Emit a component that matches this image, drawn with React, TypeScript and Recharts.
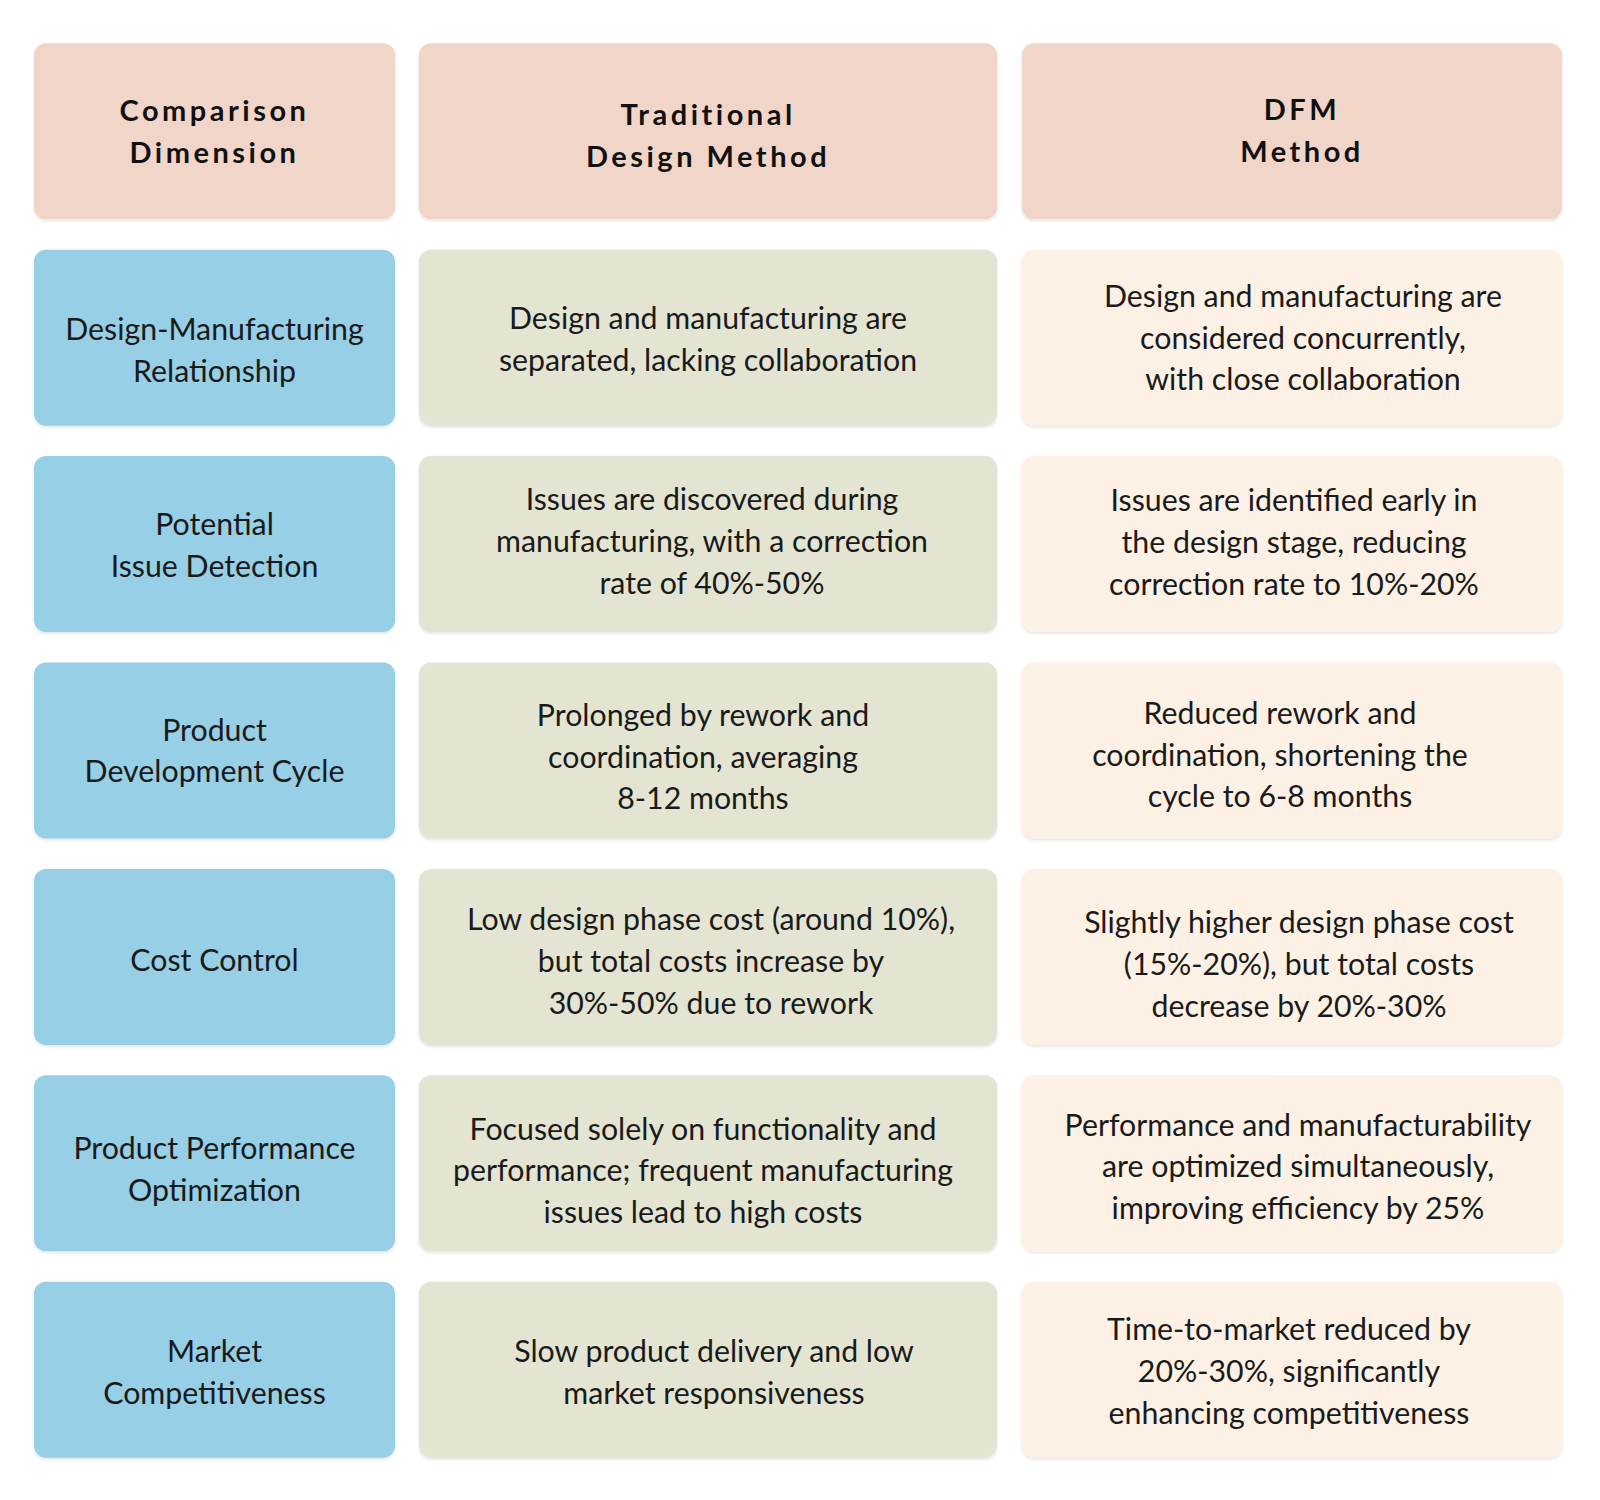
import { ScatterChart, Scatter, XAxis, YAxis } from 'recharts';

// column headers (text lines)
const headers = [
  ['Comparison', 'Dimension'],
  ['Traditional', 'Design Method'],
  ['DFM', 'Method'],
];

// first column: comparison dimensions
const dimensions = [
  ['Design-Manufacturing', 'Relationship'],
  ['Potential', 'Issue Detection'],
  ['Product', 'Development Cycle'],
  ['Cost Control'],
  ['Product Performance', 'Optimization'],
  ['Market', 'Competitiveness'],
];

// second column: traditional design method
const traditional = [
  ['Design and manufacturing are', 'separated, lacking collaboration'],
  ['Issues are discovered during', 'manufacturing, with a correction', 'rate of 40%-50%'],
  ['Prolonged by rework and', 'coordination, averaging', '8-12 months'],
  ['Low design phase cost (around 10%),', 'but total costs increase by', '30%-50% due to rework'],
  ['Focused solely on functionality and', 'performance; frequent manufacturing', 'issues lead to high costs'],
  ['Slow product delivery and low', 'market responsiveness'],
];

// third column: DFM method
const dfm = [
  ['Design and manufacturing are', 'considered concurrently,', 'with close collaboration'],
  ['Issues are identified early in', 'the design stage, reducing', 'correction rate to 10%-20%'],
  ['Reduced rework and', 'coordination, shortening the', 'cycle to 6-8 months'],
  ['Slightly higher design phase cost', '(15%-20%), but total costs', 'decrease by 20%-30%'],
  ['Performance and manufacturability', 'are optimized simultaneously,', 'improving efficiency by 25%'],
  ['Time-to-market reduced by', '20%-30%, significantly', 'enhancing competitiveness'],
];

// layout
const COL_LEFT = [34, 419, 1022];
const COL_WIDTH = [361, 578, 540];
const CELL_H = 176;
const LINE_H = 41.8;
const HEADER_FILL = '#F2D5C9';
const COL_FILL = ['#97CFE6', '#E3E5D2', '#FCF1E4'];
// small per-cell text nudges (header first), to follow the original placement
const TEXT_DX = [
  [0, 0, 0, 0, 0, 0, 0],
  [0, 0, 4, -5, 3, -5, 6],
  [10, 11, 2, -12, 7, 6, -3],
];
const TEXT_DY = [
  [1, 13, 2, 1, 4, 7, 3],
  [5, 2, -2, 7, 5, 8, 3],
  [0, 1, -1, 5, 8, 4, 2],
];

const columns = [dimensions, traditional, dfm];

const buildSeries = (c: number) => [
  { row: 0, x: COL_LEFT[c] + COL_WIDTH[c] / 2, col: c, header: true, lines: headers[c] },
  ...columns[c].map((lines, i) => ({
    row: i + 1,
    x: COL_LEFT[c] + COL_WIDTH[c] / 2,
    col: c,
    header: false,
    lines,
  })),
];

const CellShape = (props: any) => {
  const { cx, cy, payload } = props;
  const w = COL_WIDTH[payload.col];
  const fill = payload.header ? HEADER_FILL : COL_FILL[payload.col];
  const n = payload.lines.length;
  const tx = cx + TEXT_DX[payload.col][payload.row];
  const ty = cy + TEXT_DY[payload.col][payload.row];
  return (
    <g>
      <rect
        x={cx - w / 2}
        y={cy - CELL_H / 2}
        width={w}
        height={CELL_H}
        rx={12}
        ry={12}
        fill={fill}
        filter="url(#cellShadow)"
      />
      <text
        textAnchor="middle"
        fontFamily="Lato"
        fontSize={payload.header ? 29 : 30.3}
        fontWeight={payload.header ? 700 : 400}
        letterSpacing={payload.header ? 3.5 : 0}
        fill={payload.header ? '#111111' : '#1a1a1a'}
      >
        {payload.lines.map((line: string, i: number) => (
          <tspan key={i} x={tx} y={ty + (i - (n - 1) / 2) * LINE_H + 10}>
            {line}
          </tspan>
        ))}
      </text>
    </g>
  );
};

export default function App() {
  return (
    <div style={{ position: 'absolute', left: 0, top: 0, width: 1600, height: 1500, background: '#ffffff' }}>
      <ScatterChart width={1600} height={1500} margin={{ top: 28, right: 0, bottom: 27, left: 0 }}>
        <defs>
          <filter id="cellShadow" x="-5%" y="-5%" width="110%" height="115%">
            <feDropShadow dx="0" dy="1.5" stdDeviation="1.5" floodColor="#000000" floodOpacity="0.12" />
          </filter>
        </defs>
        <XAxis type="number" dataKey="x" domain={[0, 1600]} hide allowDataOverflow />
        <YAxis type="number" dataKey="row" domain={[-0.5, 6.5]} reversed hide allowDataOverflow />
        {[0, 1, 2].map((c) => (
          <Scatter key={c} data={buildSeries(c)} shape={CellShape} isAnimationActive={false} />
        ))}
      </ScatterChart>
    </div>
  );
}
